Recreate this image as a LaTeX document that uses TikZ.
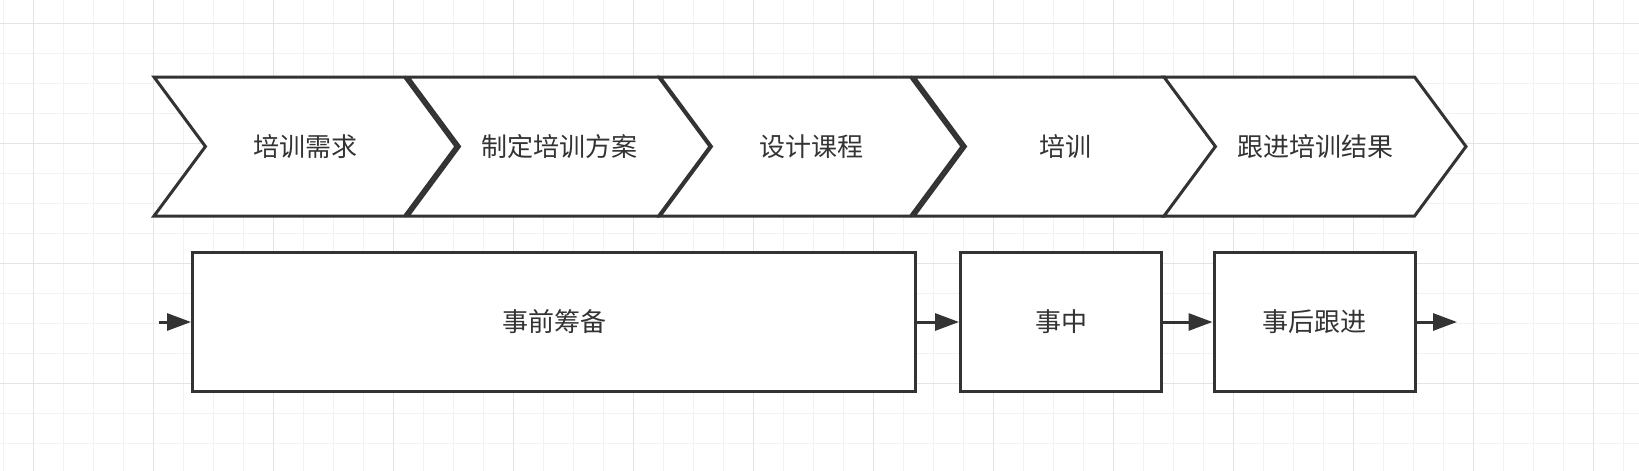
\documentclass[tikz,border=0pt]{standalone}
\usepackage{fontspec}
\setmainfont{Noto Sans CJK SC}
\usepackage{tikz}
\usetikzlibrary{positioning,shapes.symbols,arrows.meta}
\definecolor{ink}{HTML}{333333}
\definecolor{gridminor}{HTML}{F2F2F2}
\definecolor{gridmajor}{HTML}{E4E4E4}
\tikzset{
	stage/.style={
		signal, signal from=west, signal to=east,
		signal pointer angle=107,
		draw=ink, line width=3pt, fill=white,
		minimum width=302pt, minimum height=139pt,
		inner sep=0pt, text=ink
	},
	phase/.style={
		rectangle, draw=ink, line width=3pt, fill=white,
		minimum height=139pt, inner sep=0pt, text=ink
	},
	flow/.style={
		-{Triangle[length=24pt,width=17pt]},
		draw=ink, line width=3pt
	}
}

\begin{document}
\begin{tikzpicture}[x=1pt,y=-1pt,font=\fontsize{26pt}{30pt}\selectfont]

	%%% Background grid
	\fill[white] (0,0) rectangle (1639,471);
	\useasboundingbox (0,0) rectangle (1639,471);
	\foreach \gx in {3.3,33.3,...,1639} {
		\draw[gridminor,line width=1pt] (\gx,0) -- (\gx,471);
	}
	\foreach \gy in {-6.7,23.3,...,471} {
		\draw[gridminor,line width=1pt] (0,\gy) -- (1639,\gy);
	}
	\foreach \gx in {33.3,153.3,...,1639} {
		\draw[gridmajor,line width=1.5pt] (\gx,0) -- (\gx,471);
	}
	\foreach \gy in {23.3,143.3,...,471} {
		\draw[gridmajor,line width=1.5pt] (0,\gy) -- (1639,\gy);
	}

	%%% Stages (top row)
	\node at (305,146.5) [stage] (need) {培训需求};
	\node at (559,146.5) [stage] (plan) {制定培训方案};
	\node at (811,146.5) [stage] (course) {设计课程};
	\node at (1065,146.5) [stage] (train) {培训};
	\node at (1315,146.5) [stage] (follow) {跟进培训结果};

	%%% Phases (bottom row)
	\node at (554,322) [phase,minimum width=723pt] (before) {事前筹备};
	\node at (1061,322) [phase,minimum width=201pt] (during) {事中};
	\node at (1314.5,322) [phase,minimum width=201pt] (after) {事后跟进};

	\coordinate (start) at (159,322);
	\coordinate (finish) at (1457,322);

	%%% Connections
	\draw [flow] (start) -- (before);
	\draw [flow] (before) -- (during);
	\draw [flow] (during) -- (after);
	\draw [flow] (after) -- (finish);
\end{tikzpicture}
\end{document}
